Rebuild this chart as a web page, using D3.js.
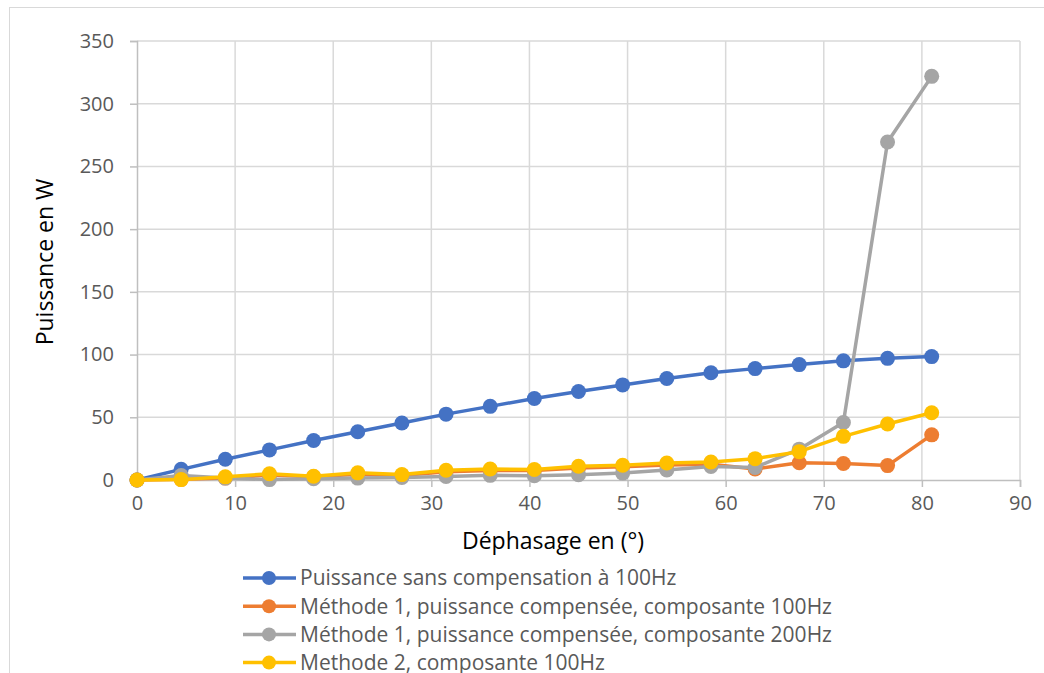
<!DOCTYPE html>
<html><head><meta charset="utf-8">
<script src="https://cdn.jsdelivr.net/npm/d3@7"></script>
<style>body{margin:0;background:#fff}svg{display:block}</style>
</head><body>
<svg id="c" width="1044" height="673"></svg>
<script>
const xValues = [0,4.5,9,13.5,18,22.5,27,31.5,36,40.5,45,49.5,54,58.5,63,67.5,72,76.5,81];
const sansComp = [0,8.5,16.5,24,31.5,38.5,45.5,52.5,58.7,65,70.6,75.8,80.9,85.5,88.8,92,95,97,98.4];
const meth1_100 = [0,0.5,1.5,4,2.5,4.5,3.5,6.5,7.5,7.5,9.5,10.5,12,12.5,8.8,13.8,13.2,11.5,36];
const meth1_200 = [0,3.5,1.5,0.3,1,1.5,2,2.8,3.7,3.4,4.2,5.5,8,10.8,10,24.6,45.8,269.5,321.8];
const meth2_100 = [0,0.3,2.5,5,3,5.7,4.3,7.8,8.8,8.4,11,11.8,13.6,14.4,17,22.6,34.8,44.6,53.6];
const seriesNames = ["Puissance sans compensation à 100Hz","Méthode 1, puissance compensée, composante 100Hz","Méthode 1, puissance compensée, composante 200Hz","Methode 2, composante 100Hz"];
const colors = ["#4472c4","#ed7d31","#a5a5a5","#ffc000"];
const xTicks = [0,10,20,30,40,50,60,70,80,90];
const yTicks = [0,50,100,150,200,250,300,350];

const series = [sansComp, meth1_100, meth1_200, meth2_100];
const svg = d3.select("#c");
const font = "'Open Sans', sans-serif";

svg.append("rect").attr("x",9.5).attr("y",7.5).attr("width",1100).attr("height",700)
  .attr("fill","none").attr("stroke","#d9d9d9").attr("stroke-width",1);

const x = d3.scaleLinear().domain([0,90]).range([137,1020]);
const y = d3.scaleLinear().domain([0,350]).range([480,41]);

// gridlines
svg.append("g").selectAll("line.h").data(yTicks.filter(d=>d>0)).join("line")
  .attr("x1",x(0)).attr("x2",x(90)).attr("y1",d=>y(d)).attr("y2",d=>y(d))
  .attr("stroke","#d9d9d9").attr("stroke-width",1.5);
svg.append("g").selectAll("line.v").data(xTicks.filter(d=>d>0)).join("line")
  .attr("x1",d=>x(d)).attr("x2",d=>x(d)).attr("y1",y(0)).attr("y2",y(350))
  .attr("stroke","#d9d9d9").attr("stroke-width",1.5);

// axes
const yAxis = svg.append("g").attr("transform",`translate(${x(0)},0)`)
  .call(d3.axisLeft(y).tickValues(yTicks).tickSize(7).tickPadding(16));
const xAxis = svg.append("g").attr("transform",`translate(0,${y(0)})`)
  .call(d3.axisBottom(x).tickValues(xTicks).tickSize(7).tickPadding(9));
[yAxis,xAxis].forEach(a=>{
  a.select(".domain").attr("stroke","#bfbfbf").attr("stroke-width",1.5);
  a.selectAll(".tick line").attr("stroke","#bfbfbf").attr("stroke-width",1.5);
  a.selectAll(".tick text").attr("fill","#595959").attr("font-size","20px").attr("font-family",font);
});

// lines
const line = d3.line().x((d,i)=>x(xValues[i])).y(d=>y(d));
series.forEach((s,k)=>{
  const g = svg.append("g");
  g.append("path").datum(s).attr("d",line).attr("fill","none")
    .attr("stroke",colors[k]).attr("stroke-width",3.5).attr("stroke-linejoin","round");
  g.selectAll("circle").data(s).join("circle")
    .attr("cx",(d,i)=>x(xValues[i])).attr("cy",d=>y(d)).attr("r",7.5).attr("fill",colors[k]);
});

// axis titles
svg.append("text").attr("x",553).attr("y",549).attr("text-anchor","middle")
  .attr("font-family",font).attr("font-size","23px").attr("fill","#000").text("Déphasage en (°)");
svg.append("text").attr("transform","translate(53,262) rotate(-90)").attr("text-anchor","middle")
  .attr("font-family",font).attr("font-size","23px").attr("fill","#000").text("Puissance en W");

// legend
const leg = svg.append("g");
seriesNames.forEach((n,k)=>{
  const yy = 578 + k*28.2;
  leg.append("line").attr("x1",243).attr("x2",296).attr("y1",yy).attr("y2",yy)
    .attr("stroke",colors[k]).attr("stroke-width",3.5);
  leg.append("circle").attr("cx",269).attr("cy",yy).attr("r",7).attr("fill",colors[k]);
  leg.append("text").attr("x",300).attr("y",yy).attr("dy","0.35em")
    .attr("font-family",font).attr("font-size","21px").attr("fill","#595959").text(n);
});
</script>
</body></html>
